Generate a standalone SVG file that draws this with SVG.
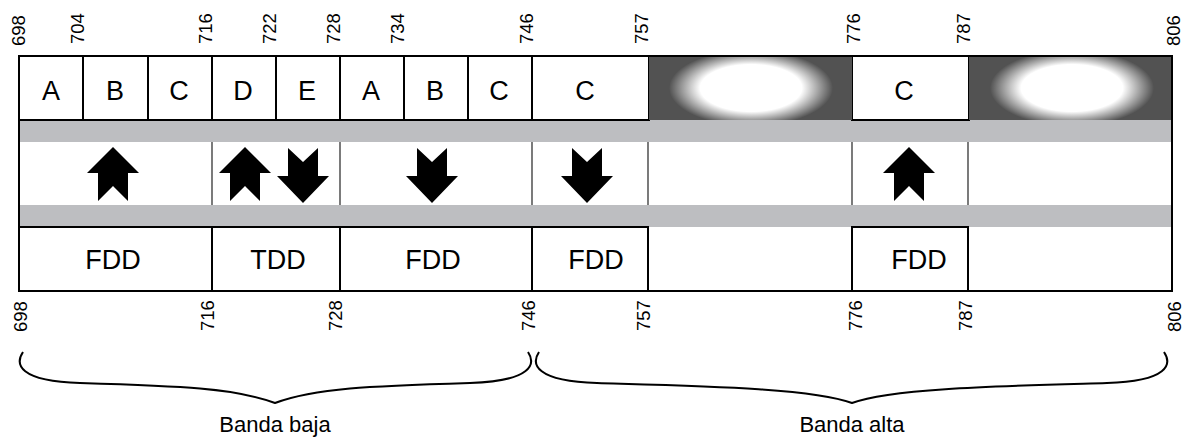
<svg xmlns="http://www.w3.org/2000/svg" width="1193" height="438" viewBox="0 0 1193 438">
  <style>
    .lbl { font-family: "Liberation Sans", Arial, sans-serif; font-size: 27px; fill: #000; text-anchor: middle; }
    .tick { font-family: "Liberation Sans", Arial, sans-serif; font-size: 18.5px; fill: #000; }
    .band { font-family: "Liberation Sans", Arial, sans-serif; font-size: 22px; fill: #000; text-anchor: middle; }
    .cell { fill: #fff; stroke: #000; stroke-width: 2; }
    .gray { fill: #bdbec1; }
    .sep { stroke: #333; stroke-width: 1.3; }
    .arrow { fill: #000; }
    .brace { fill: none; stroke: #000; stroke-width: 2; }
    .dark { fill: #525252; }
  </style>
  <defs>
    <radialGradient id="glow" cx="0.5" cy="0.5" r="0.5">
      <stop offset="0" stop-color="#fff" stop-opacity="1"/>
      <stop offset="0.62" stop-color="#fff" stop-opacity="1"/>
      <stop offset="1" stop-color="#fff" stop-opacity="0"/>
    </radialGradient>
    <path id="up" d="M0,147 L26,173 L15,173 L15,201 L0,186 L-15,201 L-15,173 L-26,173 Z"/>
    <path id="down" d="M-15,148 L0,162 L15,148 L15,176 L26,176 L0,203 L-26,176 L-15,176 Z"/>
    <clipPath id="clipA"><rect x="649" y="57" width="203" height="63"/></clipPath>
    <clipPath id="clipB"><rect x="969" y="57" width="203" height="63"/></clipPath>
  </defs>

  <rect width="1193" height="438" fill="#fff"/>

  <!-- frequency ticks, upper -->
  <g id="ticks-top" class="tick">
    <text transform="translate(25,46) rotate(-90)">698</text>
    <text transform="translate(84,44) rotate(-90)">704</text>
    <text transform="translate(212,44) rotate(-90)">716</text>
    <text transform="translate(276,44) rotate(-90)">722</text>
    <text transform="translate(340,44) rotate(-90)">728</text>
    <text transform="translate(404,44) rotate(-90)">734</text>
    <text transform="translate(533,44) rotate(-90)">746</text>
    <text transform="translate(648,44) rotate(-90)">757</text>
    <text transform="translate(860,44) rotate(-90)">776</text>
    <text transform="translate(970,44) rotate(-90)">787</text>
    <text transform="translate(1180,46) rotate(-90)">806</text>
  </g>

  <!-- guard bands and duplex row separators -->
  <g id="bands">
    <rect class="gray" x="19" y="120" width="1153" height="22"/>
    <rect class="gray" x="19" y="205" width="1153" height="22"/>
  </g>

  <!-- channel blocks -->
  <g id="blocks-top">
    <rect class="cell" x="19" y="56" width="64" height="64"/>
    <rect class="cell" x="83" y="56" width="65" height="64"/>
    <rect class="cell" x="148" y="56" width="64" height="64"/>
    <rect class="cell" x="212" y="56" width="64" height="64"/>
    <rect class="cell" x="276" y="56" width="64" height="64"/>
    <rect class="cell" x="340" y="56" width="64" height="64"/>
    <rect class="cell" x="404" y="56" width="64" height="64"/>
    <rect class="cell" x="468" y="56" width="64" height="64"/>
    <rect class="cell" x="532" y="56" width="117" height="64"/>
    <rect class="cell" x="852" y="56" width="117" height="64"/>
    <text class="lbl" x="51" y="100">A</text>
    <text class="lbl" x="115" y="100">B</text>
    <text class="lbl" x="179" y="100">C</text>
    <text class="lbl" x="243" y="100">D</text>
    <text class="lbl" x="307" y="100">E</text>
    <text class="lbl" x="371" y="100">A</text>
    <text class="lbl" x="435" y="100">B</text>
    <text class="lbl" x="499" y="100">C</text>
    <text class="lbl" x="585" y="100">C</text>
    <text class="lbl" x="904" y="100">C</text>
  </g>

  <!-- unassigned spectrum -->
  <g id="gap-757-776">
    <rect class="dark" x="649" y="56" width="203" height="64"/>
    <ellipse cx="751" cy="88" rx="82" ry="38" fill="url(#glow)" clip-path="url(#clipA)"/>
  </g>
  <g id="gap-787-806">
    <rect class="dark" x="969" y="56" width="203" height="64"/>
    <ellipse cx="1072" cy="88" rx="82" ry="38" fill="url(#glow)" clip-path="url(#clipB)"/>
  </g>

  <!-- direction row -->
  <g id="direction">
    <line class="sep" x1="212" y1="142" x2="212" y2="205"/>
    <line class="sep" x1="340" y1="142" x2="340" y2="205"/>
    <line class="sep" x1="532" y1="142" x2="532" y2="205"/>
    <line class="sep" x1="648" y1="142" x2="648" y2="205"/>
    <line class="sep" x1="852" y1="142" x2="852" y2="205"/>
    <line class="sep" x1="968" y1="142" x2="968" y2="205"/>
    <use href="#up" class="arrow" x="113"/>
    <use href="#up" class="arrow" x="245"/>
    <use href="#down" class="arrow" x="303"/>
    <use href="#down" class="arrow" x="432"/>
    <use href="#down" class="arrow" x="587"/>
    <use href="#up" class="arrow" x="909"/>
  </g>

  <!-- duplex mode row -->
  <g id="duplex">
    <rect class="cell" x="19" y="227" width="193" height="64"/>
    <rect class="cell" x="212" y="227" width="128" height="64"/>
    <rect class="cell" x="340" y="227" width="192" height="64"/>
    <rect class="cell" x="532" y="227" width="116" height="64"/>
    <rect class="cell" x="852" y="227" width="116" height="64"/>
    <text class="lbl" x="113" y="269">FDD</text>
    <text class="lbl" x="278" y="269">TDD</text>
    <text class="lbl" x="433" y="269">FDD</text>
    <text class="lbl" x="596" y="269">FDD</text>
    <text class="lbl" x="919" y="269">FDD</text>
  </g>

  <!-- outer frame -->
  <rect id="frame" x="19" y="56" width="1153" height="235" fill="none" stroke="#000" stroke-width="2"/>

  <!-- frequency ticks, lower -->
  <g id="ticks-bottom" class="tick">
    <text transform="translate(27,332) rotate(-90)">698</text>
    <text transform="translate(214,331) rotate(-90)">716</text>
    <text transform="translate(342,331) rotate(-90)">728</text>
    <text transform="translate(535,331) rotate(-90)">746</text>
    <text transform="translate(650,331) rotate(-90)">757</text>
    <text transform="translate(862,331) rotate(-90)">776</text>
    <text transform="translate(972,331) rotate(-90)">787</text>
    <text transform="translate(1181,332) rotate(-90)">806</text>
  </g>

  <!-- band braces -->
  <g id="connectors">
    <path class="brace" d="M23,352 C15,364 18,381 80,383 C180,386 235,388 275,403 C315,388 370,386 470,383 C532,381 536,364 528,352"/>
    <path class="brace" d="M539,352 C531,364 535,381 597,383 C700,386 812,388 852,403 C892,388 1004,386 1107,383 C1169,381 1172,364 1164,352"/>
  </g>

  <g id="band-low"><text class="band" x="275" y="432">Banda baja</text></g>
  <g id="band-high"><text class="band" x="852" y="432">Banda alta</text></g>
</svg>
